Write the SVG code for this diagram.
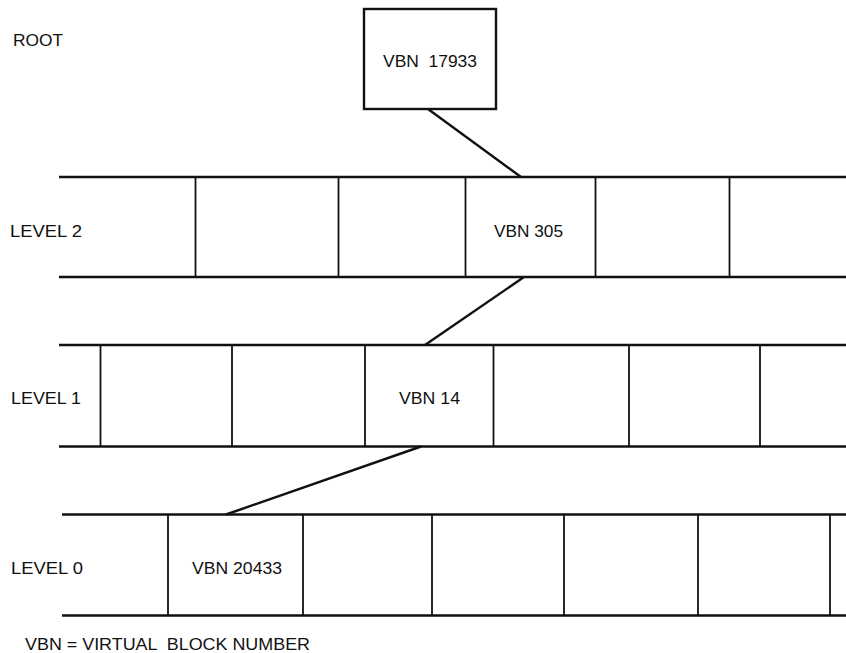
<svg xmlns="http://www.w3.org/2000/svg" width="846" height="653" viewBox="0 0 846 653">
<style>
text{font-family:"Liberation Sans",Arial,sans-serif;font-size:16px;fill:#111}
.h{stroke:#111;stroke-width:2.4;fill:none}
.v{stroke:#111;stroke-width:1.8;fill:none}
.c{stroke:#111;stroke-width:2.4;fill:none}
</style>
<rect width="846" height="653" fill="#fff"/>
<text x="13" y="46" textLength="50" lengthAdjust="spacingAndGlyphs">ROOT</text>
<text x="10" y="237" textLength="72" lengthAdjust="spacingAndGlyphs">LEVEL 2</text>
<text x="11" y="404" textLength="70" lengthAdjust="spacingAndGlyphs">LEVEL 1</text>
<text x="11" y="574" textLength="72" lengthAdjust="spacingAndGlyphs">LEVEL 0</text>
<text x="25" y="650" textLength="285" lengthAdjust="spacingAndGlyphs" xml:space="preserve">VBN = VIRTUAL  BLOCK NUMBER</text>
<g id="root">
<rect x="364" y="9" width="132" height="100" class="h"/>
<text x="383" y="67" textLength="94" lengthAdjust="spacingAndGlyphs" xml:space="preserve">VBN  17933</text>
</g>
<g id="level2">
<line x1="59" y1="177" x2="846" y2="177" class="h"/>
<line x1="59" y1="277" x2="846" y2="277" class="h"/>
<line x1="195.5" y1="177" x2="195.5" y2="277" class="v"/>
<line x1="338.5" y1="177" x2="338.5" y2="277" class="v"/>
<line x1="465.5" y1="177" x2="465.5" y2="277" class="v"/>
<line x1="595.5" y1="177" x2="595.5" y2="277" class="v"/>
<line x1="729.5" y1="177" x2="729.5" y2="277" class="v"/>
<text x="494" y="237" textLength="69" lengthAdjust="spacingAndGlyphs">VBN 305</text>
</g>
<g id="level1">
<line x1="59" y1="345" x2="846" y2="345" class="h"/>
<line x1="59" y1="446.5" x2="846" y2="446.5" class="h"/>
<line x1="100.5" y1="345" x2="100.5" y2="446.5" class="v"/>
<line x1="232" y1="345" x2="232" y2="446.5" class="v"/>
<line x1="365" y1="345" x2="365" y2="446.5" class="v"/>
<line x1="493.5" y1="345" x2="493.5" y2="446.5" class="v"/>
<line x1="629" y1="345" x2="629" y2="446.5" class="v"/>
<line x1="760" y1="345" x2="760" y2="446.5" class="v"/>
<text x="399" y="404" textLength="61" lengthAdjust="spacingAndGlyphs">VBN 14</text>
</g>
<g id="level0">
<line x1="62" y1="514.5" x2="846" y2="514.5" class="h"/>
<line x1="62" y1="615.5" x2="846" y2="615.5" class="h"/>
<line x1="168" y1="514.5" x2="168" y2="615.5" class="v"/>
<line x1="303" y1="514.5" x2="303" y2="615.5" class="v"/>
<line x1="432" y1="514.5" x2="432" y2="615.5" class="v"/>
<line x1="564" y1="514.5" x2="564" y2="615.5" class="v"/>
<line x1="698" y1="514.5" x2="698" y2="615.5" class="v"/>
<line x1="830" y1="514.5" x2="830" y2="615.5" class="v"/>
<text x="192" y="574" textLength="90" lengthAdjust="spacingAndGlyphs">VBN 20433</text>
</g>
<g id="connectors">
<line x1="428" y1="109" x2="521" y2="177" class="c"/>
<line x1="524" y1="277" x2="425" y2="345" class="c"/>
<line x1="421" y1="446.5" x2="226" y2="514.5" class="c"/>
</g>
</svg>
